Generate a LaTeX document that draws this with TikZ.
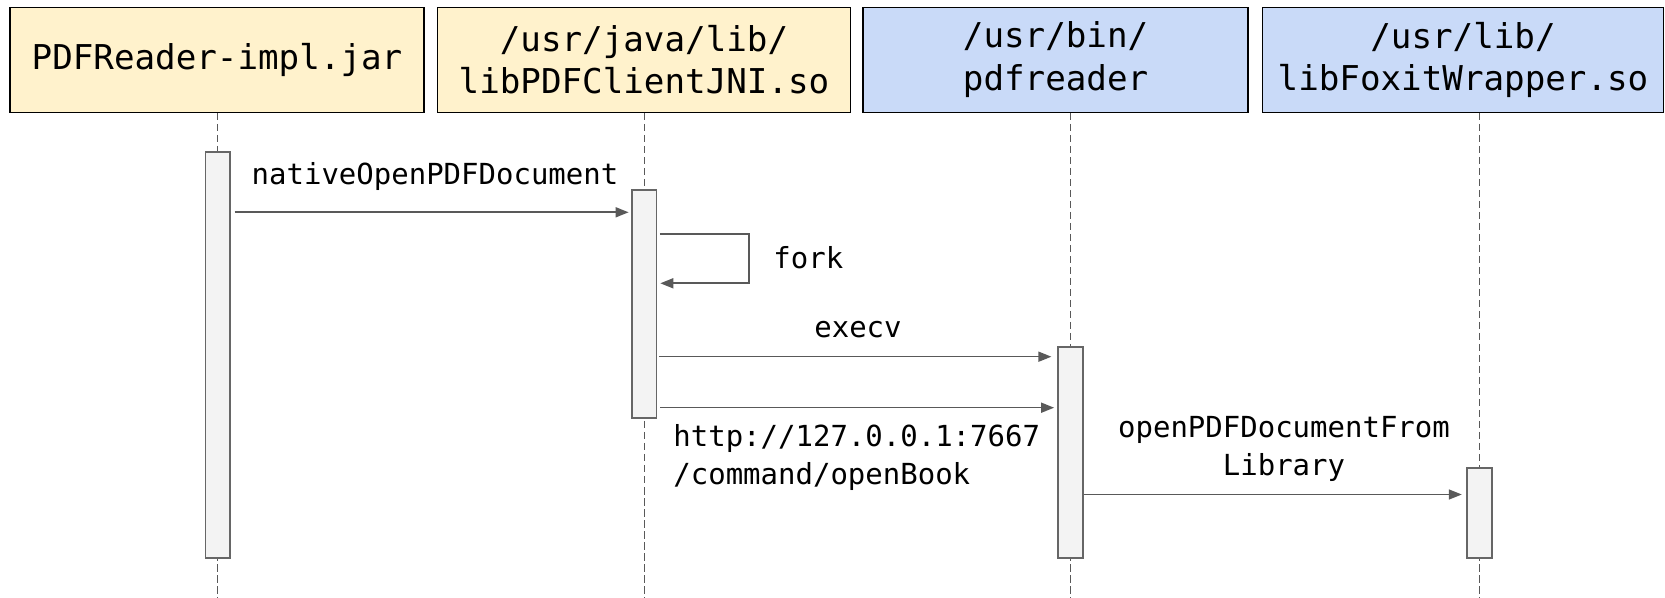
\documentclass[tikz,border=0pt]{standalone}
\usepackage{fontspec}
\setmonofont{DejaVu Sans Mono}
\usetikzlibrary{arrows.meta,calc}
\definecolor{boxyellow}{HTML}{FFF2CC}
\definecolor{boxblue}{HTML}{C9DAF8}
\definecolor{actfill}{HTML}{F3F3F3}
\definecolor{linegray}{HTML}{595959}
\definecolor{actborder}{HTML}{666666}
\begin{document}
\begin{tikzpicture}[x=0.5pt,y=-0.5pt,
  party/.style={draw=black, line width=0.7pt, minimum height=52.5pt, inner sep=0pt,
    align=center, font=\ttfamily\fontsize{17.1}{21.25}\selectfont},
  act/.style={draw=actborder, fill=actfill, line width=0.9pt, minimum width=12.2pt, inner sep=0pt},
  lifeline/.style={draw=linegray, line width=0.7pt, dash pattern=on 3.75pt off 1.75pt},
  msg/.style={draw=linegray, line width=0.8pt, -{Triangle[length=6.5pt,width=5pt]}},
  lbl/.style={inner sep=0pt, font=\ttfamily\fontsize{14.5}{19.1}\selectfont}]
\useasboundingbox (0,0) rectangle (1665,598);

% participants
\node[party, fill=boxyellow, minimum width=207pt]   (p1) at (217,59.8)    {PDFReader-impl.jar};
\node[party, fill=boxyellow, minimum width=206.5pt] (p2) at (644,59.8)    {/usr/java/lib/\\libPDFClientJNI.so};
\node[party, fill=boxblue,   minimum width=192.5pt] (p3) at (1055.6,59.8) {/usr/bin/\\pdfreader};
\node[party, fill=boxblue,   minimum width=200.5pt] (p4) at (1463,59.8)   {/usr/lib/\\libFoxitWrapper.so};

\coordinate (bottom) at (0,600);
\coordinate (x1) at (217.6,0);
\coordinate (x2) at (644.2,0);
\coordinate (x3) at (1070.5,0);
\coordinate (x4) at (1479.5,0);

% lifelines
\draw[lifeline] (x1 |- p1.south) -- (x1 |- bottom);
\draw[lifeline] (x2 |- p2.south) -- (x2 |- bottom);
\draw[lifeline] (x3 |- p3.south) -- (x3 |- bottom);
\draw[lifeline] (x4 |- p4.south) -- (x4 |- bottom);

% activations
\node[act, minimum height=202.6pt] (a1) at (217.6,355)  {};
\node[act, minimum height=114.2pt] (a2) at (644.2,304.2) {};
\node[act, minimum height=105.3pt] (a3) at (1070.5,452.6) {};
\node[act, minimum height=45.3pt]  (a4) at (1479.5,513)  {};

% message rows
\coordinate (m1) at (0,212.3);
\coordinate (m2a) at (0,234.3);
\coordinate (m2b) at (0,283.3);
\coordinate (m3) at (0,356.7);
\coordinate (m4) at (0,407.7);
\coordinate (m5) at (0,494.5);
\coordinate (loopx) at (749,0);

% messages
\draw[msg] ($(a1.east |- m1)+(4,0)$) -- ($(a2.west |- m1)+(-2.5,0)$);
\draw[msg] ($(a2.east |- m2a)+(2.6,0)$) -- (loopx |- m2a) -- (loopx |- m2b) -- ($(a2.east |- m2b)+(3,0)$);
\draw[msg] ($(a2.east |- m3)+(1.7,0)$) -- ($(a3.west |- m3)+(-6,0)$);
\draw[msg] ($(a2.east |- m4)+(2.8,0)$) -- ($(a3.west |- m4)+(-3.3,0)$);
\draw[msg] ($(a3.east |- m5)+(0.5,0)$) -- ($(a4.west |- m5)+(-4.6,0)$);

% labels (multi-line labels are placed by their last baseline)
\node[lbl, anchor=base] (t1) at (435,185) {nativeOpenPDFDocument};
\node[lbl, anchor=base west] (t2) at (773,268.7) {fork};
\node[lbl, anchor=base] (t3) at (858,337.7) {execv};
\node[lbl, anchor=base west, align=left] (t4) at (673,485) {http://127.0.0.1:7667\\/command/openBook};
\node[lbl, anchor=base, align=center] (t5) at (1284,475.5) {openPDFDocumentFrom\\Library};
\end{tikzpicture}
\end{document}
